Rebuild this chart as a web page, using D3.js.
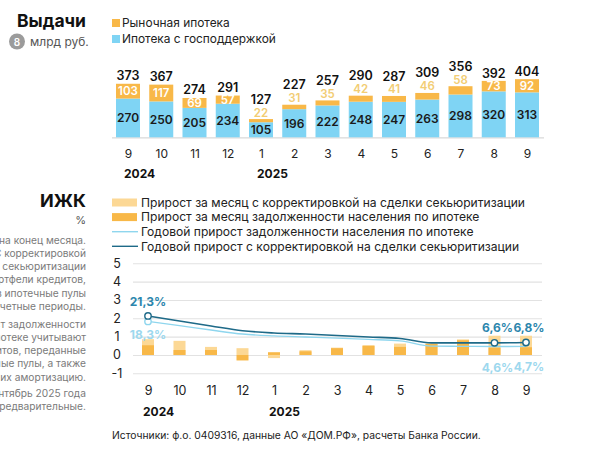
<!DOCTYPE html>
<html>
<head>
<meta charset="utf-8">
<script src="https://cdn.jsdelivr.net/npm/d3@7"></script>
<style>
  body { margin: 0; background: #fff; }
  svg { display: block; font-family: Inter, 'Noto Sans', sans-serif; }
</style>
</head>
<body>
<div class="chart"></div>
<script>
// months shared by both panels
const months = ['9', '10', '11', '12', '1', '2', '3', '4', '5', '6', '7', '8', '9']
const years = [{ label: '2024', idx: 0 }, { label: '2025', idx: 4 }]

// top panel, bln rub
const stateSupported = [270, 250, 205, 234, 105, 196, 222, 248, 247, 263, 298, 320, 313]
const marketLoans = [103, 117, 69, 57, 22, 31, 35, 42, 41, 46, 58, 73, 92]
const issueTotals = [373, 367, 274, 291, 127, 227, 257, 290, 287, 309, 356, 392, 404]

// bottom panel, %
const monthlyAdj = [0.86, 0.77, 0.44, 0.37, -0.17, 0.26, 0.40, 0.53, 0.62, 0.64, 0.85, 1.05, 1.05]
const monthlyRaw = [0.53, 0.27, 0.27, -0.30, 0.15, 0.20, 0.37, 0.50, 0.44, 0.60, 0.80, 0.40, 0.42]
const annualRaw = [18.3, 16.0, 13.6, 11.4, 10.4, 9.8, 9.2, 8.5, 7.7, 4.8, 4.7, 4.6, 4.7]
const annualAdj = [21.3, 18.5, 15.8, 13.2, 12.0, 11.4, 10.6, 9.8, 9.0, 6.6, 6.6, 6.6, 6.8]
const yTicks = [-1, 0, 1, 2, 3, 4, 5]

const notes = [
  'Данные на конец месяца.',
  'С корректировкой',
  'на сделки секьюритизации',
  'портфели кредитов,',
  'в ипотечные пулы',
  'в отчетные периоды.',
  'Прирост задолженности',
  'по ипотеке учитывают',
  'кредитов, переданные',
  'в ипотечные пулы, а также',
  'их амортизацию.',
  'Данные за сентябрь 2025 года',
  'предварительные.'
]
const noteY = [240, 253, 266, 279.5, 293, 306.5, 324, 337, 350.5, 363.5, 377, 393, 406.5]

const blue = '#7fd4f4'
const orange = '#f8b848'
const paleOrange = '#fcd895'
const lightLine = '#8fd6ee'
const darkLine = '#1e6a88'

const svg = d3.select('.chart').append('svg')
  .attr('width', 593)
  .attr('height', 462)

// ---------- top panel ----------
svg.append('text').attr('x', 17).attr('y', 27)
  .attr('font-size', 17.5).attr('font-weight', 700).attr('fill', '#111').text('Выдачи')
svg.append('circle').attr('cx', 17).attr('cy', 41.5).attr('r', 8).attr('fill', '#9b9b9b')
svg.append('text').attr('x', 17).attr('y', 45.5).attr('text-anchor', 'middle')
  .attr('font-size', 10).attr('font-weight', 600).attr('fill', '#fff').text('8')
svg.append('text').attr('x', 30).attr('y', 46)
  .attr('font-size', 12).attr('fill', '#555').text('млрд руб.')

const topLegend = [{ name: 'Рыночная ипотека', color: orange }, { name: 'Ипотека с господдержкой', color: blue }]
topLegend.forEach((d, i) => {
  const y = 23 + i * 16
  svg.append('rect').attr('x', 112).attr('y', y - 4).attr('width', 8).attr('height', 8).attr('fill', d.color)
  svg.append('text').attr('x', 122).attr('y', y + 4).attr('font-size', 11.9).attr('fill', '#222').text(d.name)
})

const xTop = d3.scalePoint().domain(d3.range(months.length)).range([128, 527])
const yTop = d3.scaleLinear().domain([0, 400]).range([137.3, 79.9])
const barW = 24

svg.append('line').attr('x1', 112).attr('x2', 544).attr('y1', 137.8).attr('y2', 137.8)
  .attr('stroke', '#d9d9d9').attr('stroke-width', 1.2)

const topBars = svg.append('g')
topBars.selectAll('.blue').data(stateSupported).join('rect')
  .attr('x', (d, i) => xTop(i) - barW / 2)
  .attr('width', barW)
  .attr('y', d => yTop(d))
  .attr('height', d => yTop(0) - yTop(d))
  .attr('fill', blue)
topBars.selectAll('.orange').data(marketLoans).join('rect')
  .attr('x', (d, i) => xTop(i) - barW / 2)
  .attr('width', barW)
  .attr('y', (d, i) => yTop(d + stateSupported[i]))
  .attr('height', (d, i) => yTop(stateSupported[i]) - yTop(d + stateSupported[i]))
  .attr('fill', orange)

// value labels
svg.append('g').selectAll('text').data(stateSupported).join('text')
  .attr('x', (d, i) => xTop(i))
  .attr('y', d => (yTop(d) + yTop(0)) / 2 + 4.5)
  .attr('text-anchor', 'middle').attr('font-size', 12).attr('font-weight', 600).attr('fill', '#1a1a1a')
  .text(d => d)
svg.append('g').selectAll('text').data(marketLoans).join('text')
  .each(function (d, i) {
    const inside = d / issueTotals[i] >= 0.18
    const top = yTop(d + stateSupported[i])
    const bottom = yTop(stateSupported[i])
    d3.select(this)
      .attr('x', xTop(i))
      .attr('y', inside ? (top + bottom) / 2 + 4 : top - 2.5)
      .attr('fill', inside ? '#fff' : '#f2cd74')
  })
  .attr('text-anchor', 'middle').attr('font-size', 11.5).attr('font-weight', 600)
  .text(d => d)
svg.append('g').selectAll('text').data(issueTotals).join('text')
  .attr('x', (d, i) => xTop(i))
  .attr('y', (d, i) => yTop(d) - (marketLoans[i] / d >= 0.18 ? 3.5 : 15.5))
  .attr('text-anchor', 'middle').attr('font-size', 12.5).attr('font-weight', 600).attr('fill', '#111')
  .text(d => d)

const topAxis = svg.append('g').attr('transform', 'translate(0,149.5)')
  .call(d3.axisBottom(xTop).tickSize(0).tickPadding(0).tickFormat(i => months[i]))
topAxis.select('.domain').remove()
topAxis.selectAll('text').attr('font-size', 12).attr('fill', '#222').attr('font-family', 'Inter, sans-serif')
svg.append('g').selectAll('text').data(years).join('text')
  .attr('x', d => xTop(d.idx) - 4).attr('y', 177.5)
  .attr('font-size', 12).attr('font-weight', 700).attr('fill', '#111')
  .text(d => d.label)

// ---------- bottom panel ----------
svg.append('text').attr('x', 86).attr('y', 206.5).attr('text-anchor', 'end')
  .attr('font-size', 18).attr('font-weight', 700).attr('fill', '#111').text('ИЖК')
svg.append('text').attr('x', 86).attr('y', 223.5).attr('text-anchor', 'end')
  .attr('font-size', 11).attr('fill', '#555').text('%')
svg.append('g').selectAll('text').data(notes).join('text')
  .attr('x', 86).attr('y', (d, i) => noteY[i] + 3.5).attr('text-anchor', 'end')
  .attr('font-size', 10.2).attr('fill', '#7a7a7a').text(d => d)

const legend = [
  { name: 'Прирост за месяц с корректировкой на сделки секьюритизации', type: 'bar', color: paleOrange },
  { name: 'Прирост за месяц задолженности населения по ипотеке', type: 'bar', color: orange },
  { name: 'Годовой прирост задолженности населения по ипотеке', type: 'line', color: lightLine },
  { name: 'Годовой прирост с корректировкой на сделки секьюритизации', type: 'line', color: darkLine }
]
legend.forEach((d, i) => {
  const y = 202.5 + i * 14.6
  if (d.type === 'bar') {
    svg.append('rect').attr('x', 112).attr('y', y - 4).attr('width', 25).attr('height', 8).attr('fill', d.color)
  } else {
    svg.append('line').attr('x1', 112).attr('x2', 138).attr('y1', y).attr('y2', y)
      .attr('stroke', d.color).attr('stroke-width', 1.4)
  }
  svg.append('text').attr('x', 141).attr('y', y + 4.2).attr('font-size', 12.1).attr('fill', '#222').text(d.name)
})

const xB = d3.scalePoint().domain(d3.range(months.length)).range([148, 526])
const yB = d3.scaleLinear().domain([-1, 5]).range([373.3, 263.3])

const grid = svg.append('g').attr('transform', 'translate(133,0)')
  .call(d3.axisLeft(yB).tickValues(yTicks).tickSize(-409).tickPadding(0).tickFormat(d3.format('d')))
grid.select('.domain').remove()
grid.selectAll('line').attr('stroke', '#e2e2e2').attr('stroke-width', 1.1)
grid.selectAll('text').attr('x', -16).attr('text-anchor', 'middle')
  .attr('font-size', 12.5).attr('fill', '#222').attr('font-family', 'Inter, sans-serif')
  .text(d => d < 0 ? '-' + Math.abs(d) : d)

const bw = 12
svg.append('g').selectAll('rect').data(monthlyAdj).join('rect')
  .attr('x', (d, i) => xB(i) - bw / 2).attr('width', bw)
  .attr('y', d => yB(Math.max(0, d)))
  .attr('height', d => Math.abs(yB(d) - yB(0)))
  .attr('fill', paleOrange)
svg.append('g').selectAll('rect').data(monthlyRaw).join('rect')
  .attr('x', (d, i) => xB(i) - bw / 2).attr('width', bw)
  .attr('y', d => yB(Math.max(0, d)))
  .attr('height', d => Math.abs(yB(d) - yB(0)))
  .attr('fill', orange)

const line = d3.line()
  .x((d, i) => xB(i))
  .y(d => yB(d / 10))
  .curve(d3.curveMonotoneX)
svg.append('path').datum(annualRaw).attr('d', line)
  .attr('fill', 'none').attr('stroke', lightLine).attr('stroke-width', 1.4)
svg.append('path').datum(annualAdj).attr('d', line)
  .attr('fill', 'none').attr('stroke', darkLine).attr('stroke-width', 1.6)

const marks = [
  { series: annualRaw, idx: 0, color: lightLine },
  { series: annualAdj, idx: 0, color: darkLine },
  { series: annualAdj, idx: 11, color: darkLine },
  { series: annualAdj, idx: 12, color: darkLine }
]
svg.append('g').selectAll('circle').data(marks).join('circle')
  .attr('cx', d => xB(d.idx)).attr('cy', d => yB(d.series[d.idx] / 10)).attr('r', 3.2)
  .attr('fill', '#fff').attr('stroke', d => d.color).attr('stroke-width', 1.4)

const fmt = v => v.toFixed(1).replace('.', ',') + '%'
const labels = [
  { series: annualAdj, idx: 0, dy: 14, color: '#2c86ad' },
  { series: annualRaw, idx: 0, dy: -14, color: '#9dd8ee' },
  { series: annualAdj, idx: 11, dy: 15, color: '#2c86ad' },
  { series: annualAdj, idx: 12, dy: 15, color: '#2c86ad' },
  { series: annualRaw, idx: 11, dy: -21, color: '#9dd8ee' },
  { series: annualRaw, idx: 12, dy: -21, color: '#9dd8ee' }
]
svg.append('g').selectAll('text').data(labels).join('text')
  .attr('x', d => xB(d.idx) + (d.idx === 0 ? 0 : 3))
  .attr('y', d => yB(d.series[d.idx] / 10) - d.dy + 4)
  .attr('text-anchor', 'middle').attr('font-size', 12).attr('font-weight', 700)
  .attr('fill', d => d.color)
  .text(d => fmt(d.series[d.idx]))

const bAxis = svg.append('g').attr('transform', 'translate(0,386)')
  .call(d3.axisBottom(xB).tickSize(0).tickPadding(0).tickFormat(i => months[i]))
bAxis.select('.domain').remove()
bAxis.selectAll('text').attr('font-size', 12.5).attr('fill', '#222').attr('font-family', 'Inter, sans-serif')
svg.append('g').selectAll('text').data(years).join('text')
  .attr('x', d => xB(d.idx) - 5).attr('y', 416)
  .attr('font-size', 12).attr('font-weight', 700).attr('fill', '#111')
  .text(d => d.label)

svg.append('text').attr('x', 112).attr('y', 438.5)
  .attr('font-size', 10.3).attr('fill', '#222')
  .text('Источники: ф.о. 0409316, данные АО «ДОМ.РФ», расчеты Банка России.')
</script>
</body>
</html>
